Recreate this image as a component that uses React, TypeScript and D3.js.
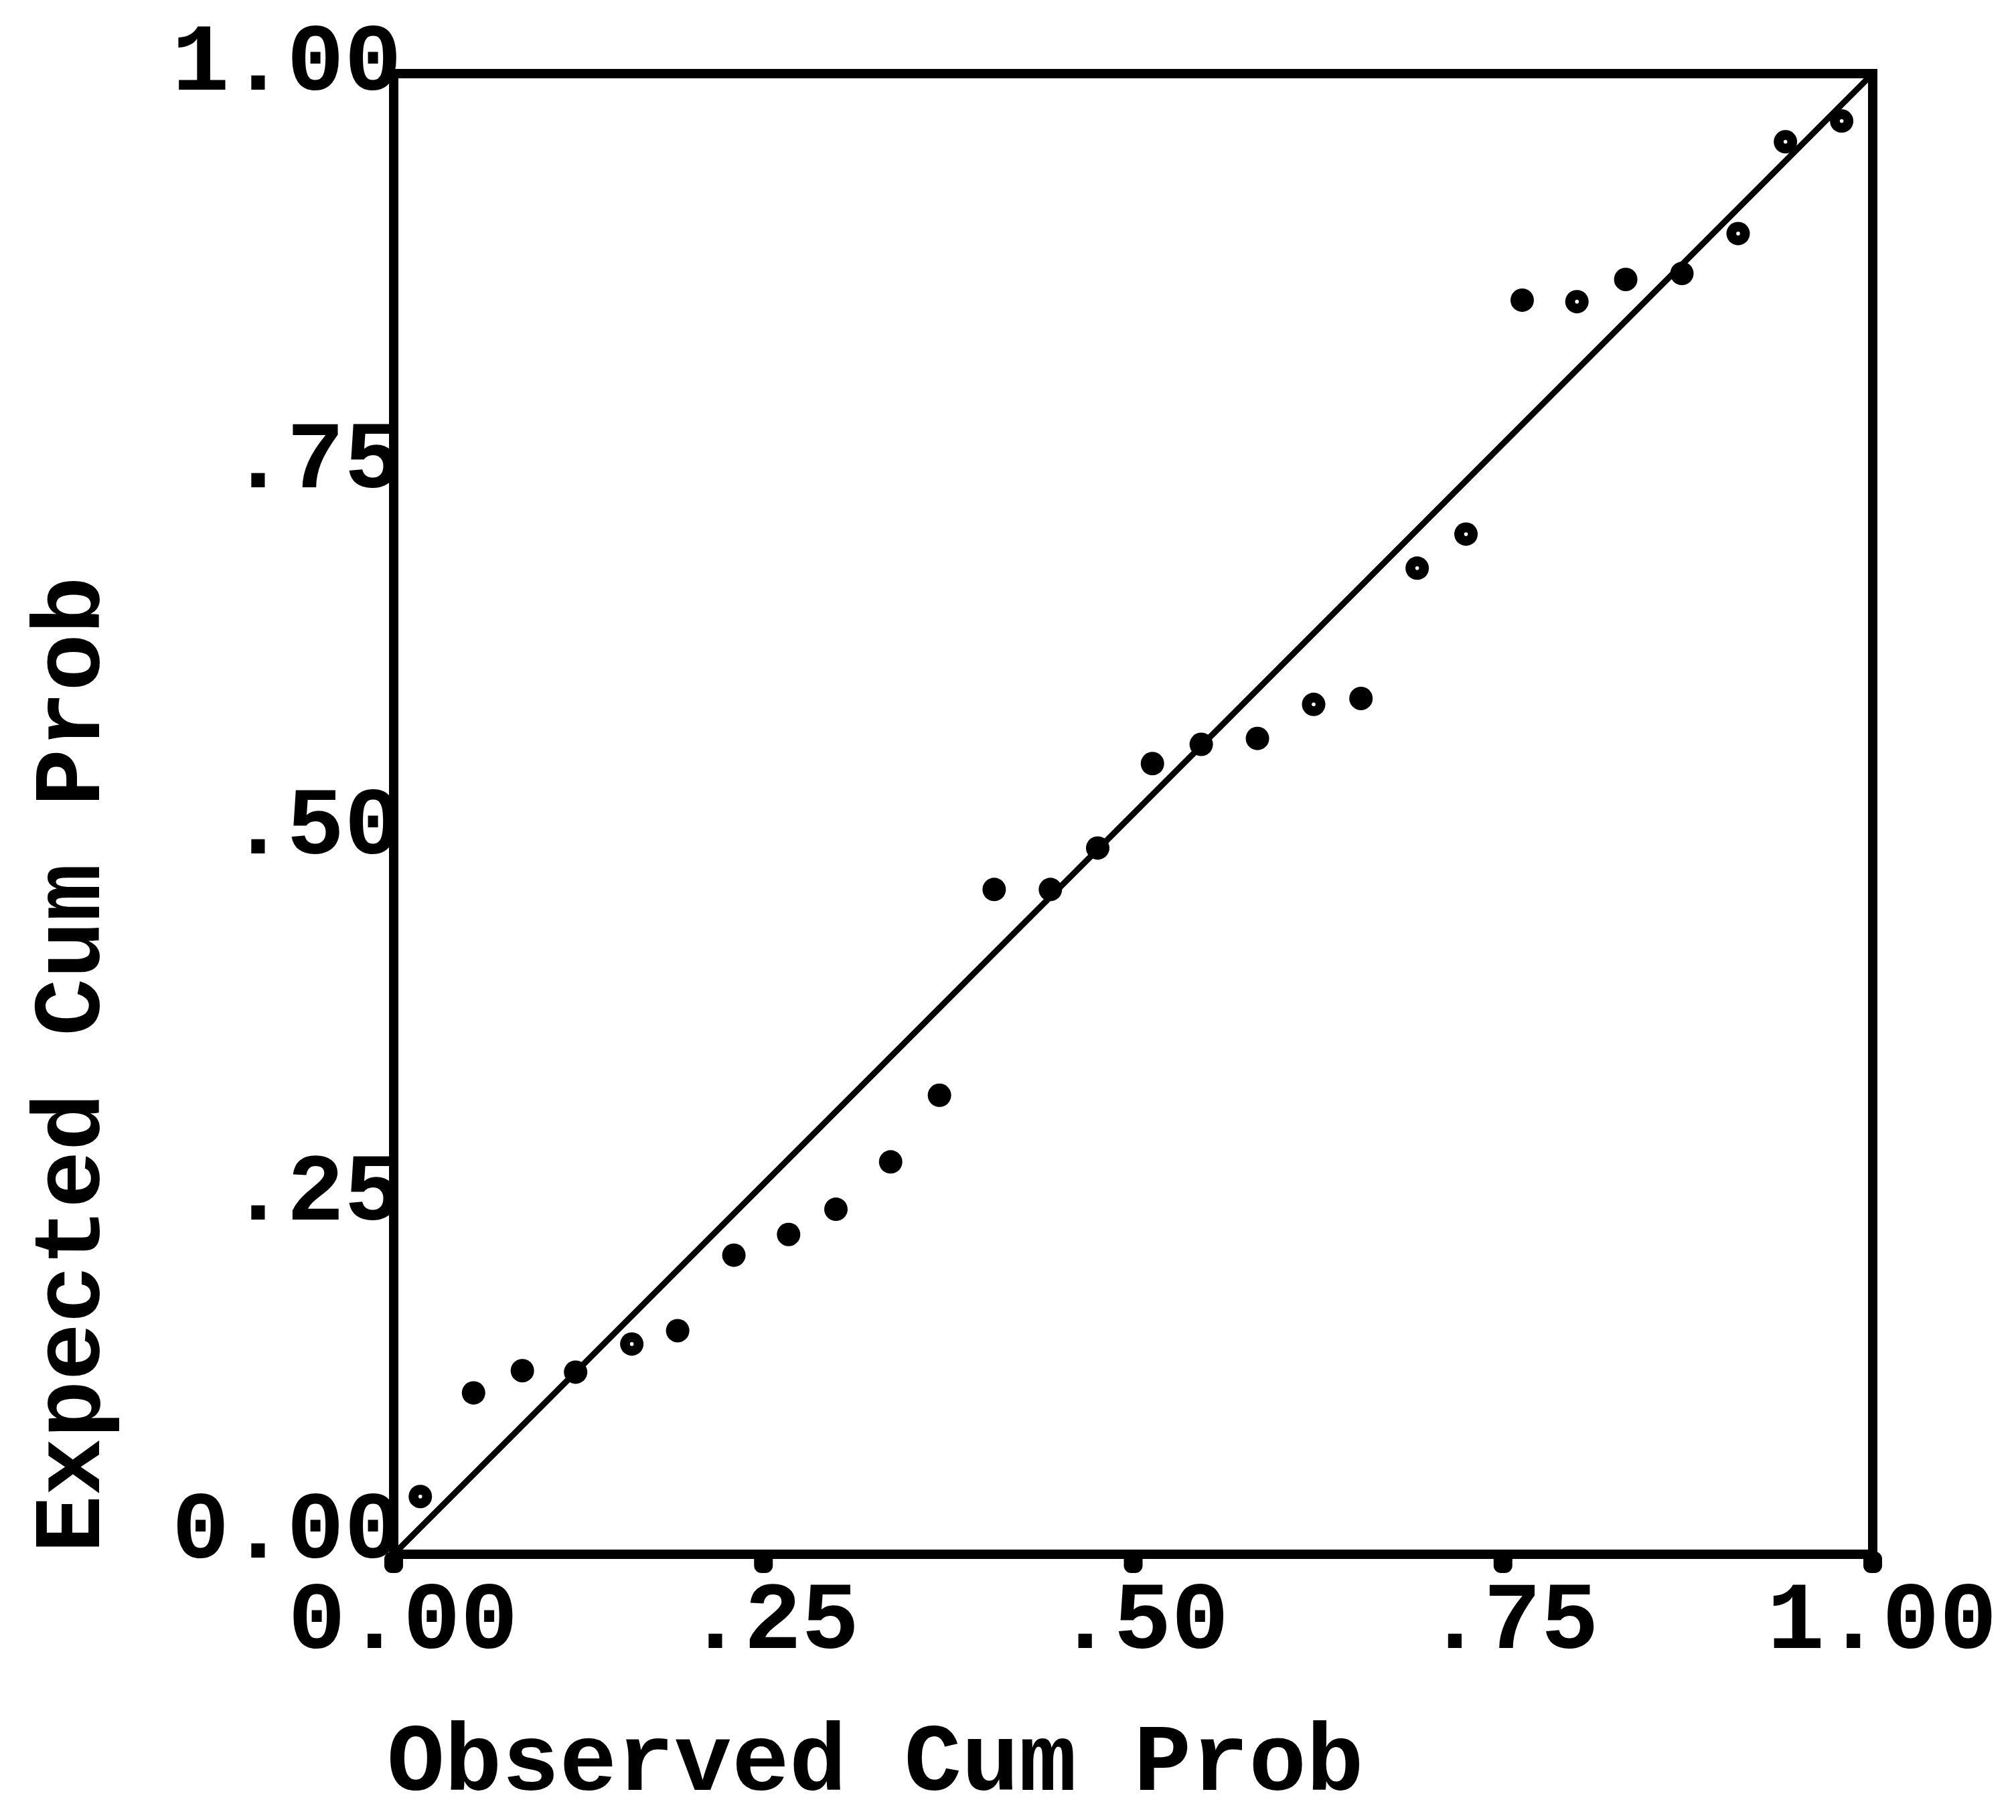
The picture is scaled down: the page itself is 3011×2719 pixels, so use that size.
import React from "react";
import * as d3 from "d3";

// P-P plot: observed vs expected cumulative probability (28 cases)
const observed = [
  0.018, 0.054, 0.087, 0.123, 0.161, 0.192, 0.230, 0.267, 0.299, 0.336,
  0.369, 0.406, 0.444, 0.476, 0.513, 0.546, 0.584, 0.622, 0.654, 0.692,
  0.725, 0.763, 0.800, 0.833, 0.871, 0.909, 0.941, 0.979,
];
const expected = [
  0.039, 0.109, 0.124, 0.123, 0.142, 0.151, 0.202, 0.216, 0.233, 0.265,
  0.310, 0.449, 0.449, 0.477, 0.534, 0.547, 0.551, 0.574, 0.578, 0.666,
  0.689, 0.847, 0.846, 0.861, 0.865, 0.892, 0.954, 0.968,
];
// symbols printed with a pinhole in the middle
const hollow = [
  true, false, false, false, true, false, false, false, false, false,
  false, false, false, false, false, false, false, true, false, true,
  true, false, true, false, false, true, true, true,
];
const tickValues = [0, 0.25, 0.5, 0.75, 1];
const tickLabels = ["0.00", ".25", ".50", ".75", "1.00"];
const xTitle = "Observed Cum Prob";
const yTitle = "Expected Cum Prob";

const W = 3011;
const H = 2719;
const LEFT = 588;
const RIGHT = 2797;
const TOP = 110;
const BOTTOM = 2322;
const FONT = "'Liberation Mono', 'DejaVu Sans Mono', monospace";
const FS = 143;
// vertical nudge of the y labels relative to their tick (line-printer rows)
const yLabelNudge = [-41, 7, 13, 19, -22];

export default function App() {
  const x = d3.scaleLinear().domain([0, 1]).range([LEFT, RIGHT]);
  const y = d3.scaleLinear().domain([0, 1]).range([BOTTOM, TOP]);
  const points = observed.map((o, i) => ({ o, e: expected[i], h: hollow[i] }));
  const diag = d3.line<number>()
    .x((v) => x(v))
    .y((v) => y(v))([0, 1]) as string;

  return (
    <svg
      width={W}
      height={H}
      viewBox={`0 0 ${W} ${H}`}
      style={{ position: "absolute", left: 0, top: 0, background: "#fff" }}
    >
      <rect x={0} y={0} width={W} height={H} fill="#fff" />

      {/* reference line */}
      <path d={diag} stroke="#000" strokeWidth={9} fill="none" />

      {/* frame */}
      <rect
        x={LEFT}
        y={TOP}
        width={RIGHT - LEFT}
        height={BOTTOM - TOP}
        fill="none"
        stroke="#000"
        strokeWidth={14}
      />

      {/* x tick marks */}
      {tickValues.map((t) => (
        <rect
          key={`xt${t}`}
          x={x(t) - 14}
          y={BOTTOM - 4}
          width={28}
          height={32}
          rx={11}
          fill="#000"
        />
      ))}

      {/* points */}
      {points.map((p, i) => (
        <g key={i}>
          <circle cx={x(p.o)} cy={y(p.e)} r={17.5} fill="#000" />
          {p.h && <circle cx={x(p.o)} cy={y(p.e)} r={2.8} fill="#fff" />}
        </g>
      ))}

      {/* x tick labels */}
      {tickValues.map((t, i) => (
        <text
          key={`xl${t}`}
          x={x(t) + 14}
          y={2462}
          textAnchor="middle"
          fontFamily={FONT}
          fontWeight="bold"
          fontSize={FS}
          fill="#000"
        >
          {tickLabels[i]}
        </text>
      ))}

      {/* y tick labels */}
      {tickValues.map((t, i) => (
        <text
          key={`yl${t}`}
          x={600}
          y={y(t) + yLabelNudge[i] + 46}
          textAnchor="end"
          fontFamily={FONT}
          fontWeight="bold"
          fontSize={FS}
          fill="#000"
        >
          {tickLabels[i]}
        </text>
      ))}

      {/* axis titles */}
      <text
        x={578}
        y={2674}
        fontFamily={FONT}
        fontWeight="bold"
        fontSize={FS}
        fill="#000"
      >
        {xTitle}
      </text>
      <text
        transform={`translate(148, 2320) rotate(-90)`}
        fontFamily={FONT}
        fontWeight="bold"
        fontSize={FS}
        fill="#000"
      >
        {yTitle}
      </text>
    </svg>
  );
}
